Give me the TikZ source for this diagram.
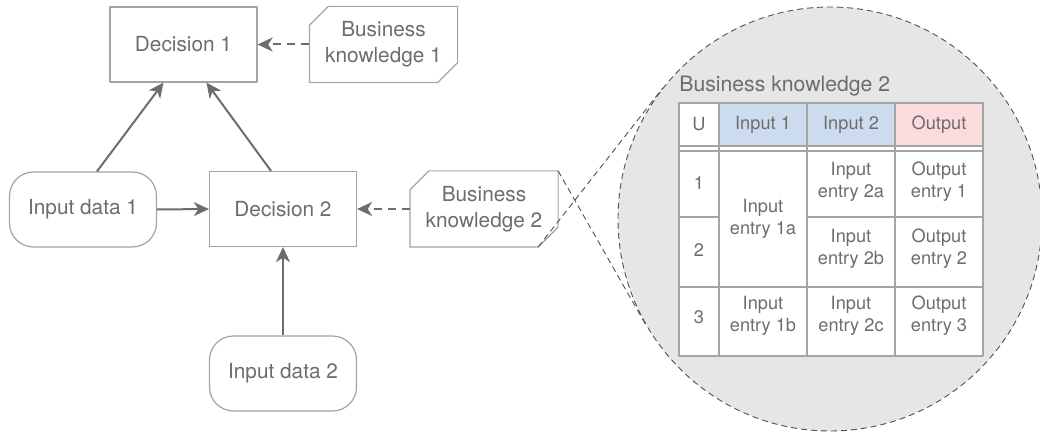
\documentclass[tikz,border=0pt]{standalone}
\usepackage{fontspec}
\setmainfont{TeX Gyre Heros}
\usetikzlibrary{arrows.meta,calc}
\definecolor{txtgray}{RGB}{112,108,108}
\definecolor{boxgray}{RGB}{165,163,163}
\definecolor{arrowgray}{RGB}{112,108,108}
\definecolor{dashgray}{RGB}{80,80,80}
\definecolor{zoomfill}{RGB}{230,230,230}
\definecolor{inblue}{RGB}{204,219,237}
\definecolor{outpink}{RGB}{250,219,222}
\newcommand\knowshape[1]{\draw[draw=boxgray,line width=0.6pt,fill=white]
	([yshift=-9.5pt]#1.north west)--([xshift=9.5pt]#1.north west)--(#1.north east)
	--([yshift=10pt]#1.south east)--([xshift=-10pt]#1.south east)--(#1.south west)--cycle;}
\begin{document}
\begin{tikzpicture}[x=0.5pt,y=-0.5pt,line join=round,
	box/.style={draw=boxgray,line width=0.6pt,fill=white,minimum width=73.5pt,minimum height=37.5pt,inner sep=0pt,align=center,text=txtgray,font=\fontsize{10.4}{13}\selectfont},
	decision/.style={box},
	inputdata/.style={box,rounded corners=12pt},
	knowledge/.style={box,draw=none,fill=none},
	flow/.style={draw=arrowgray,line width=1pt,-{Stealth[length=7.5pt,width=7pt,inset=2.2pt]}},
	knowflow/.style={flow,dash pattern=on 4pt off 3pt},
	zoomline/.style={draw=dashgray,line width=0.45pt,dash pattern=on 3pt off 2pt},
	tab/.style={draw=boxgray,line width=0.6pt},
	cell/.style={inner sep=0pt,align=center,text=txtgray,font=\fontsize{9.1}{11}\selectfont}]
	\useasboundingbox (0,0) rectangle (1040,432);
	\coordinate (k1) at (383.5,44.5);
	\coordinate (k2) at (484,209);
	\node[decision] (d1) at (183.5,44.5) {Decision 1};
	\node[knowledge] (bk1) at (k1) {\phantom{Business}};
	\knowshape{bk1}
	\node[knowledge] at (k1) {Business\\knowledge 1};
	\node[inputdata] (in1) at (83,209.5) {Input data 1};
	\node[decision] (d2) at (283,209) {Decision 2};
	\node[knowledge] (bk2) at (k2) {\phantom{Business}};
	\knowshape{bk2}
	\node[knowledge] at (k2) {Business\\knowledge 2};
	\node[inputdata] (in2) at (283,373.5) {Input data 2};
	\draw[flow] ([xshift=7pt]in1.north)--([xshift=-10pt]d1.south);
	\draw[flow] ([xshift=-6pt]d2.north)--([xshift=11.5pt]d1.south);
	\draw[flow] (in1.east)--(d2.west);
	\draw[flow] (in2.north)--(d2.south);
	\draw[knowflow] (bk1.west)--(d1.east);
	\draw[knowflow] (bk2.west)--(d2.east);
	\node[circle,inner sep=0pt,minimum size=212pt,fill=zoomfill,zoomline] (zoom) at (830,219) {};
	\draw[zoomline] (bk2.north east)--(tangent cs:node=zoom,point={(bk2.north east)},solution=1);
	\draw[zoomline] ([xshift=-10pt]bk2.south east)--(tangent cs:node=zoom,point={([xshift=-10pt]bk2.south east)},solution=2);
	\fill[white] (679,103) rectangle (983,356);
	\fill[inblue] (719,103) rectangle (895,146);
	\fill[outpink] (895,103) rectangle (983,146);
	\draw[tab] (679,103) rectangle (983,356);
	\draw[tab] (679,146)--(983,146) (679,151)--(983,151);
	\draw[tab] (719,103)--(719,356) (807,103)--(807,356) (895,103)--(895,356);
	\draw[tab] (679,217)--(719,217) (807,217)--(983,217) (679,287)--(983,287);
	\node[cell,anchor=base west,font=\fontsize{10.6}{13}\selectfont] (title) at (679,92) {Business knowledge 2};
	\node[cell] (hu) at (699,124.5) {U};
	\node[cell] (hin1) at (763,124.5) {Input 1};
	\node[cell] (hin2) at (851,124.5) {Input 2};
	\node[cell] (hout) at (939,124.5) {Output};
	\node[cell] (r1) at (699,183) {1};
	\node[cell] (r2) at (699,250) {2};
	\node[cell] (r3) at (699,317) {3};
	\node[cell] (e1a) at (763,219) {Input\\entry 1a};
	\node[cell] (e1b) at (763,316) {Input\\entry 1b};
	\node[cell] (e2a) at (851,182) {Input\\entry 2a};
	\node[cell] (e2b) at (851,249) {Input\\entry 2b};
	\node[cell] (e2c) at (851,316) {Input\\entry 2c};
	\node[cell] (o1) at (939,182) {Output\\entry 1};
	\node[cell] (o2) at (939,249) {Output\\entry 2};
	\node[cell] (o3) at (939,316) {Output\\entry 3};
\end{tikzpicture}
\end{document}
